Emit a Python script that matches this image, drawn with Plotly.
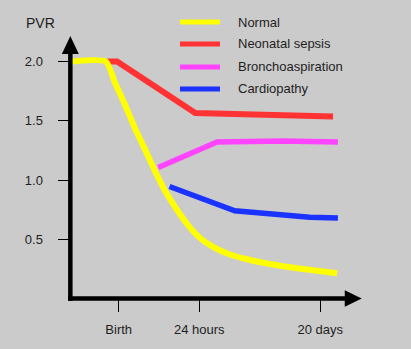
import plotly.graph_objects as go

# ---- data (x: time scale where Birth=1, 24 hours=2, 20 days=3.5; y: PVR) ----
series_names = ["Normal", "Neonatal sepsis", "Bronchoaspiration", "Cardiopathy"]
series_colors = ["#ffff00", "#ff3333", "#ff44ff", "#1a33ff"]

normal_x = [0.42, 0.84, 0.95, 1.08, 1.20, 1.33, 1.45, 1.57, 1.70, 1.86, 2.01, 2.17, 2.38,
            2.59, 2.79, 3.00, 3.21, 3.41, 3.71]
normal_y = [2.00, 2.00, 1.827, 1.633, 1.439, 1.253, 1.076, 0.916, 0.772, 0.620, 0.511, 0.435,
            0.371, 0.331, 0.302, 0.277, 0.255, 0.238, 0.213]

sepsis_x = [0.86, 0.98, 1.95, 2.72, 3.66]
sepsis_y = [2.00, 2.00, 1.565, 1.55, 1.535]

broncho_x = [1.49, 2.22, 3.04, 3.72]
broncho_y = [1.105, 1.32, 1.33, 1.32]

cardio_x = [1.63, 2.44, 3.37, 3.72]
cardio_y = [0.945, 0.74, 0.685, 0.68]

x_tick_vals = [1, 2, 3.5]
x_tick_text = ["Birth", "24 hours", "20 days"]
y_tick_vals = [0.5, 1.0, 1.5, 2.0]
y_tick_text = ["0.5", "1.0", "1.5", "2.0"]

# ---- layout helpers ----
W, H = 411, 349
X_RANGE = [-0.4727, 4.6266]
Y_RANGE = [-0.4262, 2.5190]
X0, Y0 = 0.40, 0.0          # axis origin in data units
BG = "#cbcbcb"
TXT = "#1e1e1e"
FONT = "Liberation Sans, Arial, sans-serif"

fig = go.Figure()

def add_line(x, y, color, width, shape="linear"):
    fig.add_trace(go.Scatter(x=x, y=y, mode="lines", showlegend=False, hoverinfo="skip",
                             line=dict(color=color, width=width, shape=shape,
                                       smoothing=0.6 if shape == "spline" else None)))

add_line(sepsis_x, sepsis_y, series_colors[1], 6)
add_line(broncho_x, broncho_y, series_colors[2], 5.5)
add_line(cardio_x, cardio_y, series_colors[3], 5.5)
add_line(normal_x, normal_y, series_colors[0], 6, "spline")

shapes = []
# axis lines
shapes.append(dict(type="line", xref="x", yref="y", x0=X0, x1=X0, y0=Y0 - 0.019, y1=2.07,
                   line=dict(color="black", width=4.5)))
shapes.append(dict(type="line", xref="x", yref="y", x0=X0 - 0.028, x1=3.81, y0=Y0, y1=Y0,
                   line=dict(color="black", width=4.5)))
# arrow heads
shapes.append(dict(type="path", xref="x", yref="y",
                   path=f"M {X0-0.105},2.063 L {X0+0.105},2.063 L {X0},2.215 Z",
                   fillcolor="black", line=dict(width=0)))
shapes.append(dict(type="path", xref="x", yref="y",
                   path=f"M 3.805,{Y0-0.07} L 3.805,{Y0+0.07} L 4.015,{Y0} Z",
                   fillcolor="black", line=dict(width=0)))

# manual legend
leg_y = [2.333, 2.148, 1.954, 1.768]
annotations = []
for name, col, ly in zip(series_names, series_colors, leg_y):
    shapes.append(dict(type="line", xref="x", yref="y", x0=1.76, x1=2.257, y0=ly, y1=ly,
                       line=dict(color=col, width=5)))
    annotations.append(dict(x=2.46, y=ly, xref="x", yref="y", text=name, showarrow=False,
                            xanchor="left", yanchor="middle",
                            font=dict(size=13, color=TXT, family=FONT)))

annotations.append(dict(x=24 / W, y=1 - 23 / H, xref="paper", yref="paper", text="PVR",
                        showarrow=False, xanchor="left", yanchor="middle",
                        font=dict(size=14, color=TXT, family=FONT)))

fig.update_layout(
    width=W, height=H,
    margin=dict(l=0, r=0, t=0, b=0, pad=0),
    paper_bgcolor=BG, plot_bgcolor=BG,
    shapes=shapes, annotations=annotations,
    font=dict(family=FONT, color=TXT, size=13),
    xaxis=dict(range=X_RANGE, domain=[0, 1], showgrid=False, zeroline=False, showline=False,
               tickvals=x_tick_vals, ticktext=x_tick_text, ticks="outside", ticklen=12,
               tickwidth=1, tickcolor="black", anchor="free", position=(H - 298.5) / H,
               ticklabelstandoff=7,
               tickfont=dict(size=13, color=TXT, family=FONT), fixedrange=True),
    yaxis=dict(range=Y_RANGE, domain=[0, 1], showgrid=False, zeroline=False, showline=False,
               tickvals=y_tick_vals, ticktext=y_tick_text, ticks="outside", ticklen=13,
               tickwidth=1, tickcolor="black", anchor="free", position=70.5 / W,
               ticklabelstandoff=12,
               tickfont=dict(size=13, color=TXT, family=FONT), fixedrange=True),
)

fig.write_html("out.html", config={"displayModeBar": False})
